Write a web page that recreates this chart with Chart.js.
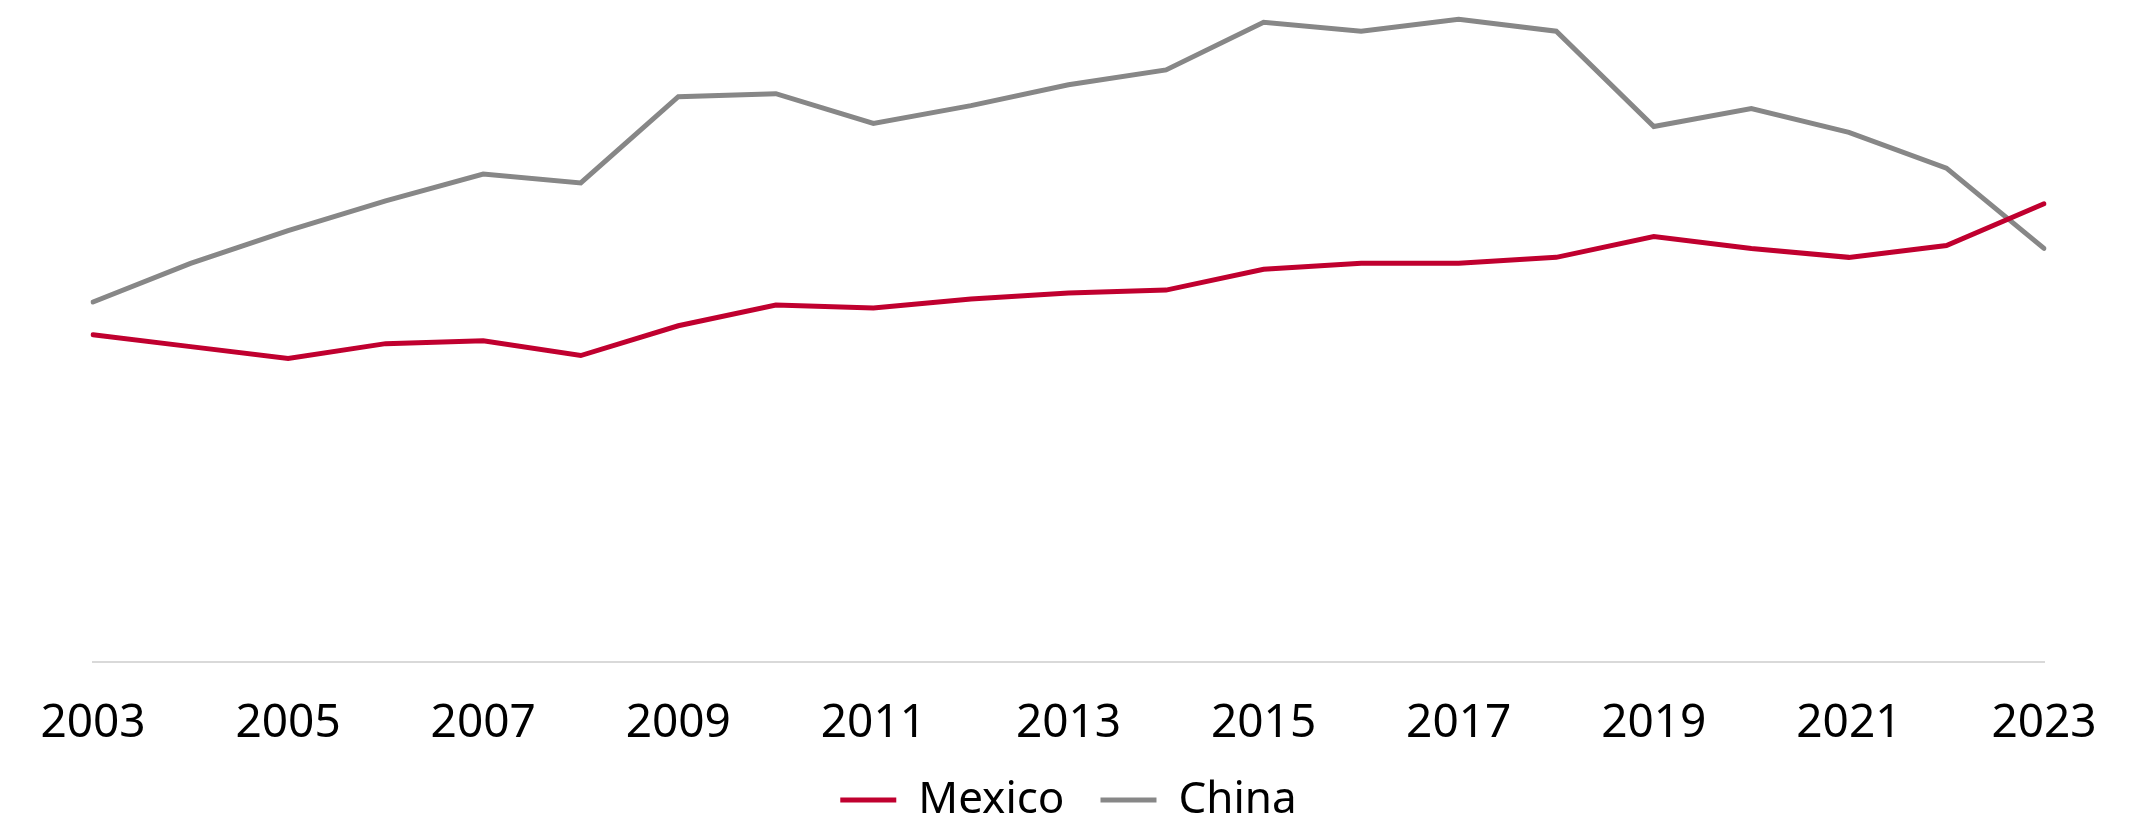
<!DOCTYPE html>
<html>
<head>
<meta charset="utf-8">
<script src="https://cdn.jsdelivr.net/npm/chart.js@4/dist/chart.umd.min.js"></script>
<style>
  html, body { margin: 0; padding: 0; background: #fff; }
  #wrap { width: 2137px; height: 816px; }
</style>
</head>
<body>
<div id="wrap"><canvas id="chart-canvas" width="2137" height="816"></canvas></div>
<script>
// share of imports, %
var years = ["2003", "2004", "2005", "2006", "2007", "2008", "2009", "2010", "2011", "2012", "2013",
             "2014", "2015", "2016", "2017", "2018", "2019", "2020", "2021", "2022", "2023"];
var mexico = [11.0, 10.6, 10.2, 10.7, 10.8, 10.3, 11.3, 12.0, 11.9, 12.2, 12.4,
              12.5, 13.2, 13.4, 13.4, 13.6, 14.3, 13.9, 13.6, 14.0, 15.4];
var china = [12.1, 13.4, 14.5, 15.5, 16.4, 16.1, 19.0, 19.1, 18.1, 18.7, 19.4,
             19.9, 21.5, 21.2, 21.6, 21.2, 18.0, 18.6, 17.8, 16.6, 13.9];

var font = "'Noto Sans', 'Open Sans', sans-serif";

function lineSet(label, values, colour) {
    return {
        label: label,
        data: values,
        borderColor: colour,
        backgroundColor: colour,
        borderWidth: 5,
        borderCapStyle: 'round',
        pointRadius: 0,
        pointBorderWidth: 5,
        pointBorderColor: colour,
        tension: 0,
        fill: false
    };
}

var ctx = document.getElementById('chart-canvas').getContext('2d');
var myChart = new Chart(ctx, {
    type: 'line',
    data: {
        labels: years,
        datasets: [
            lineSet("Mexico", mexico, "#c0002f"),
            lineSet("China", china, "#878787")
        ]
    },
    options: {
        responsive: false,
        animation: false,
        layout: { padding: { left: 93, right: 93, top: 0, bottom: -16 } },
        plugins: {
            tooltip: { enabled: false },
            legend: {
                position: 'bottom',
                labels: {
                    usePointStyle: true,
                    pointStyle: 'line',
                    pointStyleWidth: 56,
                    padding: 36,
                    color: '#000',
                    font: { family: font, size: 44 }
                }
            }
        },
        scales: {
            x: {
                offset: false,
                grid: { display: false },
                border: { display: true, color: '#d9d9d9', width: 2 },
                ticks: {
                    autoSkip: false,
                    maxRotation: 0,
                    padding: 26,
                    color: '#000',
                    font: { family: font, size: 46 },
                    callback: function (val, i) {
                        return i % 2 === 0 ? this.getLabelForValue(val) : '';
                    }
                },
                afterFit: function (scale) {
                    scale.height = 80;
                }
            },
            y: {
                display: false,
                min: 0,
                max: 22.25
            }
        }
    }
});
</script>
</body>
</html>
